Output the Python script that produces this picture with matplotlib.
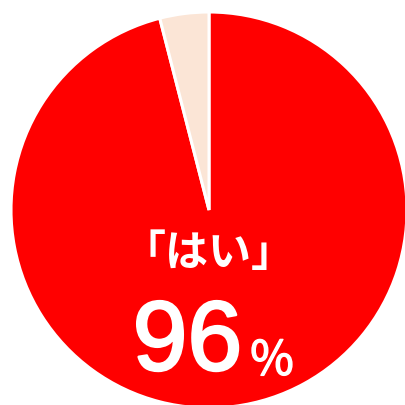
import matplotlib
matplotlib.use("Agg")
import matplotlib.pyplot as plt
import matplotlib.patheffects as pe

labels = ["はい", "いいえ"]
values = [96, 4]
colors = ["#FF0000", "#FBE5D6"]
main_label = "「はい」"
main_value = "96"

W = H = 405
fig = plt.figure(figsize=(W / 100, H / 100), dpi=100)
cx, cy, r = 209, 210, 198
ax = fig.add_axes([(cx - r) / W, 1 - (cy + r) / H, 2 * r / W, 2 * r / H])
ax.set_xlim(-1, 1)
ax.set_ylim(-1, 1)
ax.axis("off")

wedges, _ = ax.pie(values, colors=colors, startangle=90, counterclock=False,
                   radius=1, center=(0, 0), frame=False,
                   wedgeprops=dict(edgecolor="white", linewidth=2.2))
ax.set_xlim(-1, 1)
ax.set_ylim(-1, 1)
for w in wedges:
    w.set_clip_on(False)

ax.text(0.0, -0.215, main_label, ha="center", va="center", color="white",
        fontsize=31, fontweight="bold", family=["Noto Sans CJK JP", "DejaVu Sans"])
ax.text(-0.109, -0.808, main_value, ha="center", va="baseline", color="white",
        fontsize=71, family=["Liberation Sans"],
        path_effects=[pe.withStroke(linewidth=1.8, foreground="white")])
ax.text(0.318, -0.835, "％", ha="center", va="baseline", color="white",
        fontsize=34, family=["Noto Sans CJK JP", "DejaVu Sans"],
        path_effects=[pe.withStroke(linewidth=1.0, foreground="white")])

fig.savefig("out.png", dpi=100)
